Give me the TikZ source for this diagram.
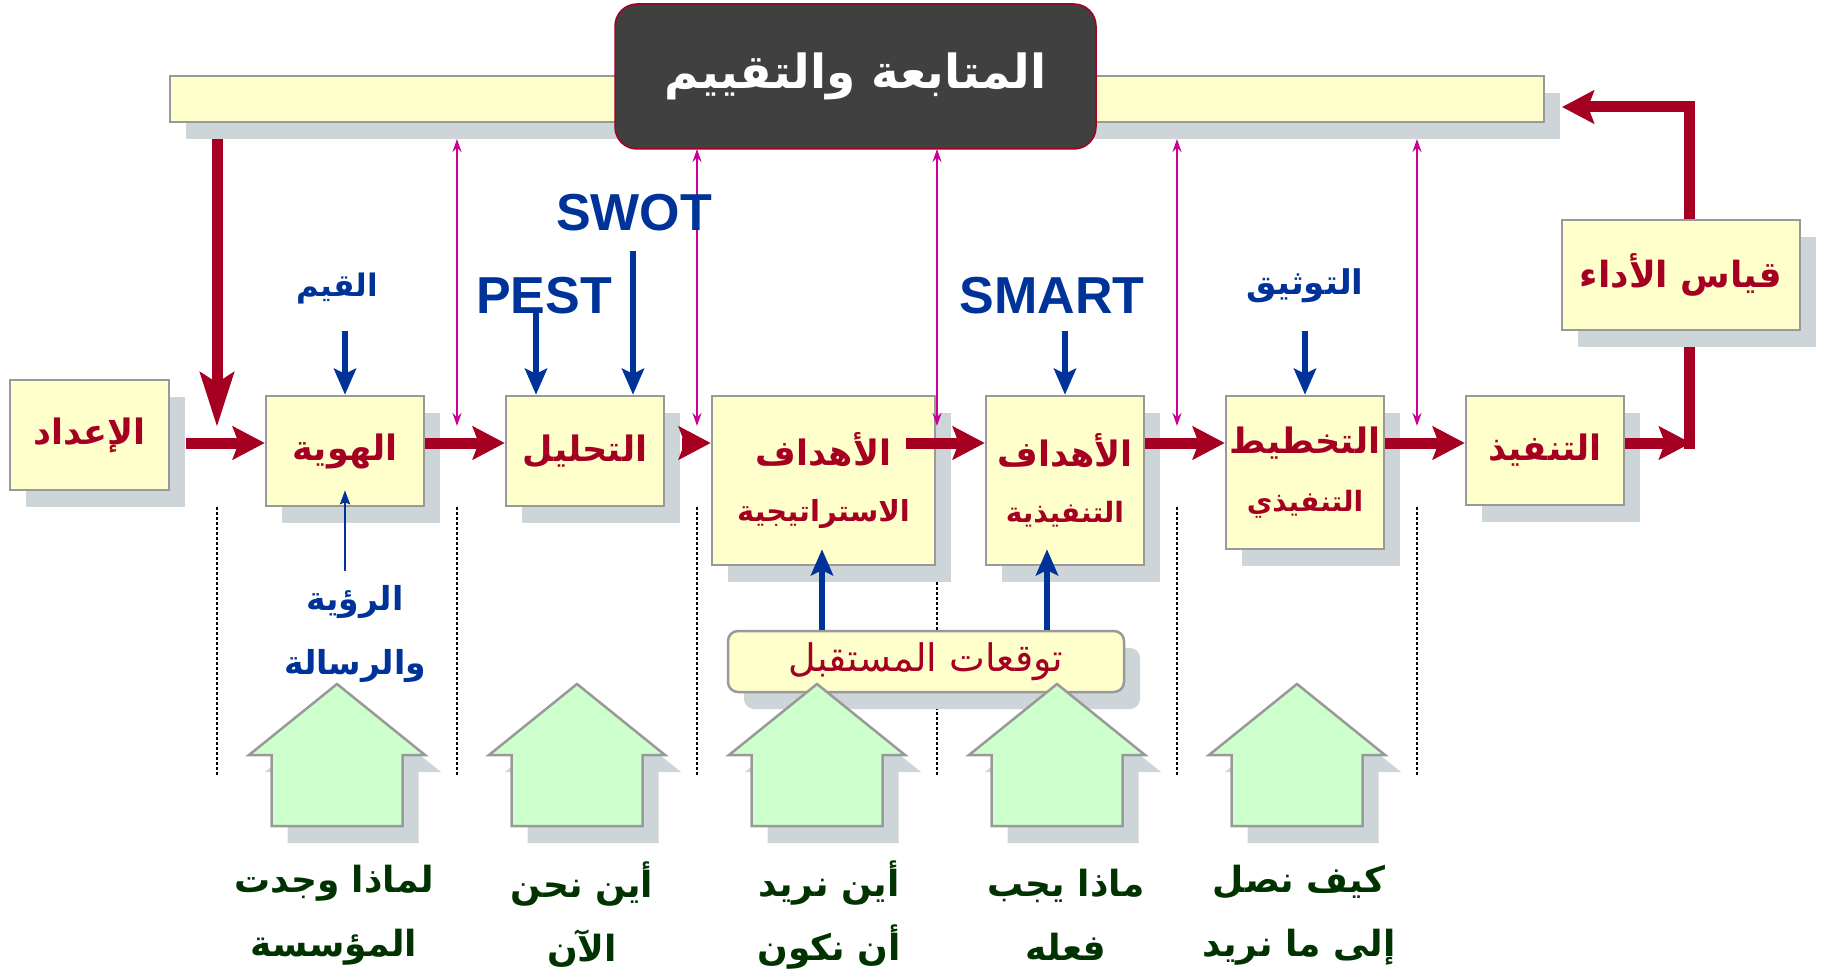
\documentclass[tikz,border=0pt]{standalone}
\usepackage{fontspec}
\setmainfont{Liberation Sans}
\newfontfamily\arfont[Script=Arabic]{DejaVu Sans}
\TeXXeTstate=1
\usetikzlibrary{arrows.meta,shadows,calc}

\definecolor{boxfill}{HTML}{FFFFCC}
\definecolor{boxline}{HTML}{999999}
\definecolor{shade}{HTML}{CDD5D8}
\definecolor{flowred}{HTML}{A50021}
\definecolor{toolblue}{HTML}{003399}
\definecolor{linkpink}{HTML}{CC0099}
\definecolor{housegreen}{HTML}{CCFFCC}
\definecolor{askgreen}{HTML}{003300}
\definecolor{titlegray}{HTML}{404040}

\newcommand\AR[1]{\beginR#1\endR}
% bold Arabic at size #1
\newcommand\arsize[1]{\arfont\bfseries\fontsize{#1}{1.2\dimexpr#1pt\relax}\selectfont}
% bold Arabic at size #1 with line pitch #2
\newcommand\arpitch[2]{\arfont\bfseries\fontsize{#1}{#2}\selectfont}

\tikzset{
  shadowed/.style={drop shadow={shadow xshift=16pt, shadow yshift=-17pt, fill=shade, opacity=1}},
  stagebox/.style={shadowed, draw=boxline, line width=2.5pt, fill=boxfill, inner sep=0pt,
    text=flowred, align=center, font=\arsize{35}},
  flow/.style={flowred, line width=11pt, arrows={-Stealth[length=32pt, width=33pt, inset=6pt]}},
  longflow/.style={flowred, line width=11pt, arrows={-Stealth[length=54pt, width=33pt, inset=10pt]}},
  tool/.style={toolblue, line width=6pt, arrows={-Stealth[length=26pt, width=22pt, inset=5pt]}},
  thintool/.style={toolblue, line width=2.5pt, arrows={-Stealth[length=14pt, width=10pt, inset=2pt]}},
  link/.style={linkpink, line width=2pt, arrows={Stealth[length=13pt, width=9pt]-Stealth[length=13pt, width=9pt]}},
  bluelabel/.style={text=toolblue, align=center, inner sep=0pt},
  latinlabel/.style={bluelabel, font=\bfseries\fontsize{52}{60}\selectfont},
  asklabel/.style={text=askgreen, align=center, inner sep=0pt, font=\arpitch{36}{64}},
  house/.style={shadowed, draw=boxline, line width=2.5pt, fill=housegreen},
  divider/.style={black, line width=1.8pt, dash pattern=on 2.5pt off 2.5pt},
}

% up-pointing block arrow centred on x = #1
\newcommand\housearrow[1]{%
  \draw[house] (#1,684) -- (#1+88,755) -- (#1+65.5,755) -- (#1+65.5,826)
    -- (#1-65.5,826) -- (#1-65.5,755) -- (#1-88,755) -- cycle;}

\begin{document}
\begin{tikzpicture}[x=1pt, y=-1pt]
\useasboundingbox (0,0) rectangle (1824,979);

% dotted column dividers
\foreach \dx in {217,457,697,937,1177,1417}
  {\draw[divider] (\dx,507) -- (\dx,776);}

% monitoring bar and its title
\node[stagebox, minimum width=1374pt, minimum height=46pt] (bar) at (857,99) {};
\node[draw=flowred, line width=1.5pt, fill=titlegray, rounded corners=22pt,
      minimum width=481pt, minimum height=145pt, text=white, font=\arsize{47}]
      (title) at (855.5,76.5) {\AR{المتابعة والتقييم}};

% free ends of the connectors
\coordinate (flowY) at (0,443);
\coordinate (prepTop) at (217,139);
\coordinate (prepTip) at (217,427);
\coordinate (fbCorner) at (1689,443);
\coordinate (fbTop) at (1689,107);
\coordinate (fbEnd) at (1562,107);
\foreach \lx/\ly [count=\i] in {457/139,697/149,937/149,1177/139,1417/139}{
  \coordinate (linkTop\i) at (\lx,\ly);
  \coordinate (linkBot\i) at (\lx,426);
}
\coordinate (valuesFoot) at (345,331);
\coordinate (pestFoot) at (536,311);
\coordinate (swotFoot) at (633,251);
\coordinate (smartFoot) at (1065,331);
\coordinate (docFoot) at (1305,331);
\coordinate (visionHead) at (345,571);
\coordinate (hopeL) at (822,631);
\coordinate (hopeR) at (1047,631);

% feedback loop (runs behind the measurement box)
\draw[flow] ([yshift=-5.5pt]fbCorner) -- (fbTop) -- (fbEnd);

% stage boxes
\node[stagebox, minimum width=159pt, minimum height=110pt] (prep) at (89.5,435) {\AR{الإعداد}};
\node[stagebox, minimum width=158pt, minimum height=110pt] (identity) at (345,451) {\AR{الهوية}};
\node[stagebox, minimum width=158pt, minimum height=110pt] (analysis) at (585,451) {\AR{التحليل}};
\node[stagebox, minimum width=223pt, minimum height=169pt] (stratgoals) at (823.5,480.5)
  {\AR{الأهداف}\\[14pt]{\arsize{29}\AR{الاستراتيجية}}};
\node[stagebox, minimum width=158pt, minimum height=169pt] (execgoals) at (1065,480.5)
  {\AR{الأهداف}\\[14pt]{\arsize{28}\AR{التنفيذية}}};
\node[stagebox, minimum width=158pt, minimum height=153pt] (planning) at (1305,472.5)
  {\AR{التخطيط}\\[16pt]{\arsize{28}\AR{التنفيذي}}};
\node[stagebox, minimum width=158pt, minimum height=109pt] (execution) at (1545,450.5) {\AR{التنفيذ}};
\node[stagebox, minimum width=238pt, minimum height=110pt, font=\arsize{36}] (measure) at (1681,275) {\AR{قياس الأداء}};

% main flow
\draw[longflow] (prepTop) -- (prepTip);
\draw[flow] ([xshift=16pt]prep.east |- flowY) -- (identity.west |- flowY);
\draw[flow] (identity.east |- flowY) -- (analysis.west |- flowY);
\draw[flow] ([xshift=17pt]analysis.east |- flowY) -- (stratgoals.west |- flowY);
\draw[flow] ([xshift=-30pt]stratgoals.east |- flowY) -- (execgoals.west |- flowY);
\draw[flow] (execgoals.east |- flowY) -- (planning.west |- flowY);
\draw[flow] (planning.east |- flowY) -- (execution.west |- flowY);
\draw[flow] (execution.east |- flowY) -- ([xshift=2pt]fbCorner);

% links with the monitoring bar
\foreach \i in {1,...,5}
  {\draw[link] (linkTop\i) -- (linkBot\i);}

% tools feeding the stages
\node[bluelabel, font=\arsize{31}] (values) at (337,289) {\AR{القيم}};
\node[latinlabel] (pest) at (544,296) {PEST};
\node[latinlabel] (swot) at (634,213) {SWOT};
\node[latinlabel] (smart) at (1052,296) {SMART};
\node[bluelabel, font=\arsize{34}] (documenting) at (1305,286) {\AR{التوثيق}};
\node[bluelabel, font={\arpitch{33}{64}}] (vision) at (355,634) {\AR{الرؤية}\\\AR{والرسالة}};

\draw[tool] (valuesFoot) -- (identity.north);
\draw[tool] (pestFoot) -- (analysis.north -| pestFoot);
\draw[tool] (swotFoot) -- (analysis.north -| swotFoot);
\draw[tool] (smartFoot) -- (execgoals.north);
\draw[tool] (docFoot) -- (planning.north);
\draw[thintool] (visionHead) -- ([yshift=17pt]identity.south);

% future expectations
\node[shadowed, draw=boxline, line width=2.5pt, fill=boxfill, rounded corners=10pt,
      minimum width=396pt, minimum height=61pt, text=flowred, font=\arfont\fontsize{38}{44}\selectfont]
      (future) at (926,661.5) {\AR{توقعات المستقبل}};
\draw[tool] (future.north -| hopeL) -- ([yshift=17pt]stratgoals.south -| hopeL);
\draw[tool] (future.north -| hopeR) -- ([yshift=17pt]execgoals.south -| hopeR);

% guiding questions
\foreach \hx in {337,577,817,1057,1297}
  {\housearrow{\hx}}

\node[asklabel] (q1) at (334,915) {\AR{لماذا وجدت}\\\AR{المؤسسة}};
\node[asklabel] (q2) at (582,915) {\AR{أين نحن}\\\AR{الآن}};
\node[asklabel] (q3) at (829,915) {\AR{أين نريد}\\\AR{أن نكون}};
\node[asklabel] (q4) at (1066,915) {\AR{ماذا يجب}\\\AR{فعله}};
\node[asklabel] (q5) at (1299,915) {\AR{كيف نصل}\\\AR{إلى ما نريد}};
\end{tikzpicture}
\end{document}
